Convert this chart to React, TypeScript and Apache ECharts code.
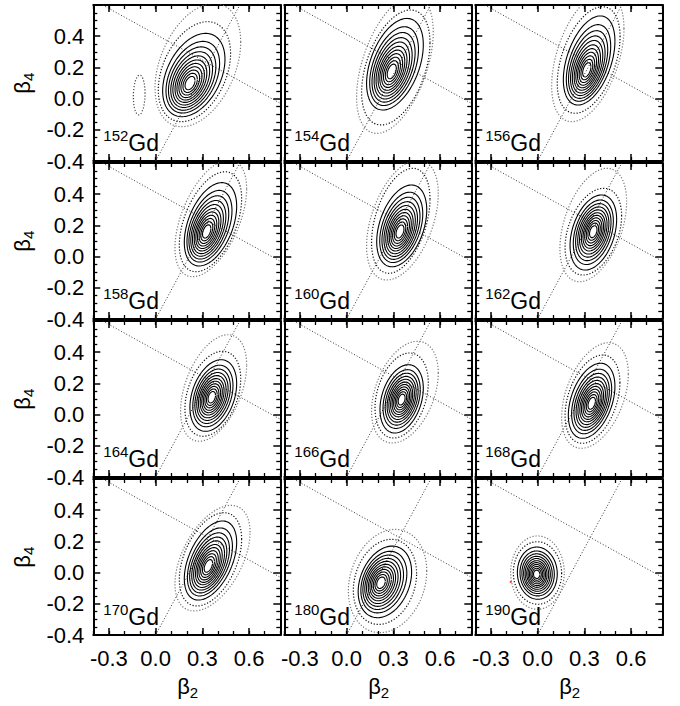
import React, { useEffect, useRef } from 'react';
import * as echarts from 'echarts';

// ---------- data ----------
const ISOTOPES = ['152', '154', '156', '158', '160', '162', '164', '166', '168', '170', '180', '190'];

// centre (minimum) of each distribution [beta2, beta4]
const CENTERS = [
  [0.22, 0.098], [0.289, 0.173], [0.315, 0.183],
  [0.327, 0.16], [0.342, 0.16], [0.357, 0.16],
  [0.36, 0.111], [0.353, 0.096], [0.347, 0.072],
  [0.338, 0.042], [0.22, -0.065], [-0.006, -0.011],
];

// extreme points of a contour: [right, top, left, bottom] as [beta2, beta4]
const SOLID_OUTER = [
  [[0.445, 0.247], [0.381, 0.418], [0.045, 0.055], [0.22, -0.116]],
  [[0.492, 0.354], [0.46, 0.514], [0.128, 0.098], [0.31, -0.073]],
  [[0.496, 0.354], [0.464, 0.53], [0.165, 0.098], [0.325, -0.041]],
  [[0.52, 0.299], [0.488, 0.474], [0.184, 0.074], [0.338, -0.06]],
  [[0.514, 0.299], [0.482, 0.459], [0.193, 0.085], [0.364, -0.065]],
  [[0.507, 0.277], [0.464, 0.395], [0.208, 0.096], [0.368, -0.086]],
  [[0.52, 0.192], [0.477, 0.352], [0.22, 0.032], [0.381, -0.107]],
  [[0.492, 0.192], [0.439, 0.32], [0.214, 0.021], [0.374, -0.118]],
  [[0.496, 0.179], [0.475, 0.329], [0.197, -0.003], [0.357, -0.152]],
  [[0.52, 0.192], [0.499, 0.331], [0.184, -0.032], [0.338, -0.176]],
  [[0.417, -0.001], [0.353, 0.17], [0.074, -0.097], [0.235, -0.289]],
  [[0.126, -0.011], [0.004, 0.164], [-0.13, 0.01], [0.004, -0.171]],
];

const DOTTED_INNER = [
  [[0.481, 0.247], [0.424, 0.493], [0.017, 0.034], [0.242, -0.148]],
  [[0.535, 0.376], [0.514, 0.568], [0.096, 0.066], [0.321, -0.169]],
  [[0.529, 0.354], [0.507, 0.589], [0.126, 0.066], [0.325, -0.094]],
  [[0.552, 0.341], [0.531, 0.544], [0.152, 0.053], [0.338, -0.097]],
  [[0.535, 0.384], [0.503, 0.566], [0.16, 0.059], [0.375, -0.107]],
  [[0.539, 0.299], [0.486, 0.438], [0.176, 0.074], [0.368, -0.118]],
  [[0.546, 0.213], [0.499, 0.406], [0.188, 0.01], [0.381, -0.139]],
  [[0.524, 0.192], [0.46, 0.395], [0.182, 0.0], [0.374, -0.15]],
  [[0.528, 0.158], [0.507, 0.382], [0.176, -0.024], [0.357, -0.184]],
  [[0.552, 0.192], [0.52, 0.384], [0.152, -0.054], [0.338, -0.214]],
  [[0.449, -0.044], [0.342, 0.213], [0.043, -0.118], [0.235, -0.332]],
  [[0.154, -0.011], [0.004, 0.198], [-0.156, 0.0], [0.004, -0.203]],
];

const DOTTED_OUTER = [
  [[0.546, 0.312], [0.466, 0.61], [-0.004, 0.012], [0.263, -0.18]],
  [[0.556, 0.504], [0.53, 0.66], [0.064, 0.023], [0.332, -0.223]],
  [[0.554, 0.312], [0.52, 0.68], [0.09, 0.023], [0.27, -0.148]],
  [[0.584, 0.448], [0.56, 0.62], [0.124, 0.032], [0.349, -0.129]],
  [[0.588, 0.406], [0.556, 0.62], [0.128, 0.021], [0.385, -0.15]],
  [[0.571, 0.406], [0.507, 0.566], [0.143, 0.042], [0.368, -0.161]],
  [[0.584, 0.341], [0.531, 0.512], [0.16, -0.011], [0.381, -0.171]],
  [[0.588, 0.341], [0.471, 0.47], [0.16, -0.021], [0.385, -0.182]],
  [[0.582, 0.307], [0.496, 0.461], [0.154, -0.045], [0.368, -0.216]],
  [[0.606, 0.363], [0.499, 0.431], [0.124, -0.075], [0.338, -0.246]],
  [[0.514, -0.001], [0.342, 0.277], [0.011, -0.118], [0.235, -0.385]],
  [[0.171, -0.011], [0.004, 0.235], [-0.173, -0.011], [0.004, -0.235]],
];

// small separate dotted island in the 152Gd panel
const ISLAND_152 = [[-0.068, 0.04], [-0.1, 0.151], [-0.143, 0.0], [-0.1, -0.105]];

// relative sizes of the solid contour rings (outer = 1)
const SOLID_FRACTIONS = [1, 0.86, 0.76, 0.67, 0.59, 0.51, 0.44, 0.37, 0.3, 0.23, 0.16];

// the two dotted reference lines, identical in every panel
const SHALLOW_LINE = [[-0.34, 0.6], [0.8, -0.03]];
const STEEP_LINE = [[0.0, -0.4], [0.54, 0.6]];

const RED_MARK_190 = [[-0.173, -0.06]];

const X_MAJOR = [-0.3, 0, 0.3, 0.6];

// ---------- layout ----------
const FONT = 'Liberation Sans, Arial, Helvetica, sans-serif';
const LEFT0 = 93.3;
const COL_PITCH = 191;
const GRID_W = 187;
const TOP0 = 5;
const ROW_PITCH = 158;
const GRID_H = 156;

type P = number[];
type Ell = { cx: number; cy: number; hx: number; hy: number; sxy: number };

// ellipse whose bounding extremes are the four measured points
function fitEllipse(ext: P[]): Ell {
  const [R, T, L, B] = ext;
  const cx = (R[0] + L[0]) / 2;
  const cy = (T[1] + B[1]) / 2;
  const hx = (R[0] - L[0]) / 2;
  const hy = (T[1] - B[1]) / 2;
  let sxy = (((R[1] - L[1]) / 2) * hx + ((T[0] - B[0]) / 2) * hy) / 2;
  const lim = 0.95 * hx * hy;
  sxy = Math.max(-lim, Math.min(lim, sxy));
  return { cx, cy, hx, hy, sxy };
}

function ellipsePoints(e: Ell): P[] {
  const n = 120;
  const k = e.sxy / e.hx;
  const q = Math.sqrt(Math.max(1e-8, e.hy * e.hy - k * k));
  const out: P[] = [];
  for (let i = 0; i <= n; i++) {
    const t = (i / n) * Math.PI * 2;
    const ct = Math.cos(t), st = Math.sin(t);
    out.push([e.cx + e.hx * ct, e.cy + k * ct + q * st]);
  }
  return out;
}

function shrink(e: Ell, c: P, f: number): Ell {
  const w = f * f;
  return {
    cx: c[0] + (e.cx - c[0]) * w,
    cy: c[1] + (e.cy - c[1]) * w,
    hx: e.hx * f,
    hy: e.hy * f,
    sxy: e.sxy * w,
  };
}

function fmt(v: number) {
  const r = Math.round(v * 10) / 10;
  return (r === 0 ? 0 : r).toFixed(1);
}

function buildOption() {
  const grid: any[] = [];
  const xAxis: any[] = [];
  const yAxis: any[] = [];
  const series: any[] = [];
  const graphic: any[] = [];
  const black = '#000';

  ISOTOPES.forEach((iso, i) => {
    const r = Math.floor(i / 3);
    const c = i % 3;
    const left = LEFT0 + c * COL_PITCH;
    const top = TOP0 + r * ROW_PITCH;
    grid.push({ left, top, width: GRID_W, height: GRID_H, outerBoundsMode: 'none', containLabel: false });

    const majorX = (pos: string, labels: boolean) => ({
      gridIndex: i, type: 'value', min: -0.4, max: 0.8, position: pos,
      axisLine: { show: true, onZero: false, lineStyle: { color: black, width: 2 } },
      axisTick: { show: true, inside: true, length: 7, customValues: X_MAJOR, lineStyle: { color: black, width: 1.5 } },
      axisLabel: {
        show: labels, customValues: X_MAJOR, formatter: fmt, color: black,
        fontSize: 22, fontFamily: FONT, margin: 12,
      },
      splitLine: { show: false },
    });
    const minorX = (pos: string) => ({
      gridIndex: i, type: 'value', min: -0.4, max: 0.8, interval: 0.1, position: pos,
      axisLine: { show: false, onZero: false },
      axisTick: { show: true, inside: true, length: 4, lineStyle: { color: black, width: 1.3 } },
      axisLabel: { show: false },
      splitLine: { show: false },
    });
    xAxis.push(majorX('bottom', r === 3));
    xAxis.push(majorX('top', false));
    xAxis.push(minorX('bottom'));
    xAxis.push(minorX('top'));

    const yAx = (pos: string, labels: boolean) => ({
      gridIndex: i, type: 'value', min: -0.4, max: 0.6, interval: 0.2, position: pos,
      axisLine: { show: true, onZero: false, lineStyle: { color: black, width: 2 } },
      axisTick: { show: true, inside: true, length: 7, lineStyle: { color: black, width: 1.5 } },
      minorTick: { show: true, splitNumber: 4, length: 4, lineStyle: { color: black, width: 1.3 } },
      axisLabel: {
        show: labels, color: black, fontSize: 22, fontFamily: FONT, margin: 9,
        formatter: (v: number) => (Math.abs(v - 0.6) < 1e-6 ? '' : fmt(v)),
      },
      splitLine: { show: false },
      minorSplitLine: { show: false },
    });
    yAxis.push(yAx('left', c === 0));
    yAxis.push(yAx('right', false));

    const xi = 4 * i;
    const yi = 2 * i;
    const base = {
      type: 'line', xAxisIndex: xi, yAxisIndex: yi, symbol: 'none', showSymbol: false,
      silent: true, clip: true, smooth: false,
    };

    // dotted reference lines
    [SHALLOW_LINE, STEEP_LINE].forEach((ln) => {
      series.push({ ...base, data: ln, z: 2, lineStyle: { color: '#333', width: 1, type: [1, 2] } });
    });

    // dotted outer contours
    series.push({ ...base, data: ellipsePoints(fitEllipse(DOTTED_OUTER[i])), z: 3, lineStyle: { color: '#777', width: 1.2, type: [1.2, 1.8] } });
    series.push({ ...base, data: ellipsePoints(fitEllipse(DOTTED_INNER[i])), z: 3, lineStyle: { color: '#111', width: 1.2, type: [1.2, 1.8] } });
    if (i === 0) {
      series.push({ ...base, data: ellipsePoints(fitEllipse(ISLAND_152)), z: 3, lineStyle: { color: '#444', width: 1.2, type: [1.2, 1.8] } });
    }

    // solid contours
    const outer = fitEllipse(SOLID_OUTER[i]);
    SOLID_FRACTIONS.forEach((f) => {
      series.push({ ...base, data: ellipsePoints(shrink(outer, CENTERS[i], f)), z: 4, lineStyle: { color: black, width: 1.1 } });
    });

    if (i === 11) {
      series.push({
        type: 'scatter', xAxisIndex: xi, yAxisIndex: yi, data: RED_MARK_190, symbolSize: 2,
        itemStyle: { color: '#e00' }, silent: true, z: 5,
      });
    }

    // isotope label
    graphic.push({
      type: 'text', x: left + 10, y: top + 130, z: 10,
      style: { text: iso, fontSize: 15, fontFamily: FONT, fill: black, align: 'left', verticalAlign: 'middle' },
    });
    graphic.push({
      type: 'text', x: left + 35, y: top + 137.5, z: 10,
      style: { text: 'Gd', fontSize: 23, fontFamily: FONT, fill: black, align: 'left', verticalAlign: 'middle' },
    });
  });

  // beta4 titles (rotated) for each row
  for (let r = 0; r < 4; r++) {
    const top = TOP0 + r * ROW_PITCH;
    graphic.push({
      type: 'group', x: 22, y: top + 79, rotation: Math.PI / 2,
      children: [
        { type: 'text', x: 3, y: 0, style: { text: 'β', fontSize: 22, fontFamily: FONT, fill: black, align: 'right', verticalAlign: 'middle' } },
        { type: 'text', x: 3, y: 6, style: { text: '4', fontSize: 15, fontFamily: FONT, fill: black, align: 'left', verticalAlign: 'middle' } },
      ],
    });
  }
  // beta2 titles for each column
  for (let c = 0; c < 3; c++) {
    const cx = LEFT0 + c * COL_PITCH + GRID_W / 2;
    graphic.push({ type: 'text', x: cx + 3, y: 686, style: { text: 'β', fontSize: 22, fontFamily: FONT, fill: black, align: 'right', verticalAlign: 'middle' } });
    graphic.push({ type: 'text', x: cx + 3, y: 692, style: { text: '2', fontSize: 15, fontFamily: FONT, fill: black, align: 'left', verticalAlign: 'middle' } });
  }

  return {
    animation: false,
    backgroundColor: '#fff',
    grid, xAxis, yAxis, series, graphic,
  };
}

export default function App() {
  const ref = useRef<HTMLDivElement>(null);
  useEffect(() => {
    if (!ref.current) return;
    const chart = echarts.init(ref.current, null, { renderer: 'svg' });
    chart.setOption(buildOption() as any);
    return () => chart.dispose();
  }, []);
  return (
    <div
      ref={ref}
      style={{ position: 'fixed', left: 0, top: 0, width: 680, height: 706, background: '#fff' }}
    />
  );
}
